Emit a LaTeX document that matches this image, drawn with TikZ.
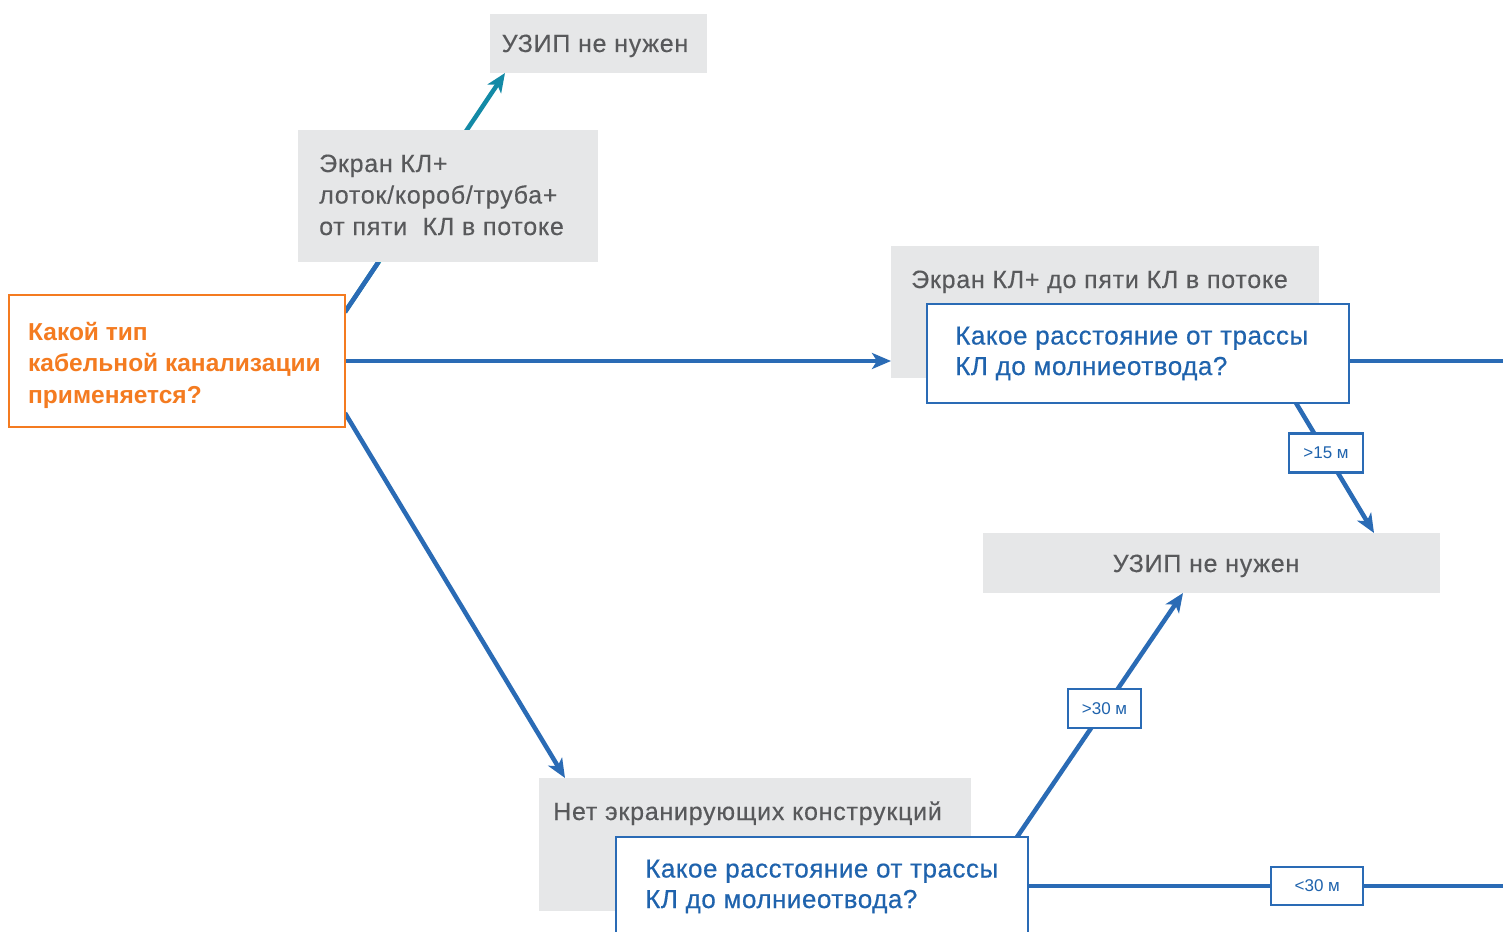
\documentclass[tikz,border=0pt]{standalone}
\usepackage{fontspec}
\setmainfont{Liberation Sans}
\newfontfamily\grayfont[FakeBold=0.3, LetterSpace=3]{Liberation Sans}
\newfontfamily\bluefont[FakeBold=0.5, LetterSpace=2]{Liberation Sans}
\usetikzlibrary{arrows.meta,calc}
\definecolor{gfill}{HTML}{E6E7E8}
\definecolor{gtxt}{HTML}{58595B}
\definecolor{orng}{HTML}{F47B20}
\definecolor{blu}{HTML}{2A6BB5}
\definecolor{blut}{HTML}{1F63AD}
\definecolor{tealc}{HTML}{138AA6}
\pgfdeclarelayer{back}
\pgfdeclarelayer{bg}
\pgfsetlayers{back,bg,main}
\begin{document}
\begin{tikzpicture}[x=1pt,y=-1pt,
  box/.style={anchor=north west, inner sep=0pt, outer sep=0pt},
  graybox/.style={box, fill=gfill},
  orangebox/.style={box, fill=white, draw=orng, line width=2.6pt},
  bluebox/.style={box, fill=white, draw=blu, line width=2.6pt},
  gtext/.style={inner sep=0pt, text=gtxt, font=\fontsize{25}{31.5}\grayfont, align=left},
  otext/.style={inner sep=0pt, text=orng, font=\fontsize{24.5}{31.5}\selectfont\bfseries, align=left},
  btext/.style={inner sep=0pt, text=blut, font=\fontsize{26}{30.5}\bluefont, align=left},
  tag/.style={fill=white, draw=blu, line width=2.2pt, text=blut, font=\fontsize{17}{20}\selectfont, inner sep=0pt},
  conn/.style={draw=blu, line width=4.5pt},
  arr/.style={conn, -{Stealth[length=19pt, width=16pt, inset=5pt]}},
]
\useasboundingbox (0,0) rectangle (1503,931);
\begin{pgfonlayer}{back}
  \fill[white] (0,0) rectangle (1503,931);
\end{pgfonlayer}
\coordinate (rim) at (1503,0);

\node[graybox, minimum width=217, minimum height=59] (top) at (490,14) {};
\node[gtext, anchor=base] (topt) at (595,52) {УЗИП не нужен};

\node[graybox, minimum width=300, minimum height=132] (g2) at (298,130) {};
\node[gtext, anchor=base west] (g2t) at (319,235) {Экран КЛ+\\лоток/короб/труба+\\от пяти\ \ КЛ в потоке};

\node[orangebox, minimum width=336, minimum height=132] (o) at (9,295) {};
\node[otext, anchor=base west] (ot) at (28,403) {Какой тип\\кабельной канализации\\применяется?};

\node[graybox, minimum width=428, minimum height=132] (g3) at (891,246) {};
\node[gtext, anchor=base west] (g3t) at (911,288) {Экран КЛ+ до пяти КЛ в потоке};

\node[bluebox, minimum width=422, minimum height=99] (b1) at (927,304) {};
\node[btext, anchor=base west] (b1t) at (955,375) {Какое расстояние от трассы\\КЛ до молниеотвода?};

\node[graybox, minimum width=457, minimum height=60] (g4) at (983,533) {};
\node[gtext, anchor=base] (g4t) at (1206,572) {УЗИП не нужен};

\node[graybox, minimum width=432, minimum height=133] (g5) at (539,778) {};
\node[gtext, anchor=base west] (g5t) at (553,820) {Нет экранирующих конструкций};

\node[bluebox, minimum width=412, minimum height=98] (b2) at (616,837) {};
\node[btext, anchor=base west] (b2t) at (645,908) {Какое расстояние от трассы\\КЛ до молниеотвода?};

\begin{pgfonlayer}{bg}
  \coordinate (s1) at ($(o.north east)+(0,17)$);
  \coordinate (t1) at ($(top.south west)+(15,0)$);
  \draw[arr, draw=tealc] (s1) -- (t1);
  \draw[conn] (s1) -- (intersection of s1--t1 and g2.south west--g2.south east);
  \draw[arr] (o.east) -- (o.east -| g3.west);
  \draw[arr] ($(o.south east)+(0,-14)$) -- ($(g5.north west)+(26,0)$);
  \draw[conn] (b1.east |- o.east) -- (rim |- o.east);
  \draw[arr] ($(b1.south west)+(369,0)$) -- ($(g4.north west)+(391,0)$)
    node[tag, pos=0.385, minimum width=74, minimum height=39] (l15) {>15 м};
  \draw[arr] ($(b2.north east)+(-11,0)$) -- ($(g4.south west)+(200,0)$)
    node[tag, pos=0.527, minimum width=73, minimum height=39] (l30) {>30 м};
  \draw[conn] (b2.east) -- (b2.east -| rim)
    node[tag, pos=0.609, minimum width=92, minimum height=38] (l30b) {<30 м};
\end{pgfonlayer}
\end{tikzpicture}
\end{document}
